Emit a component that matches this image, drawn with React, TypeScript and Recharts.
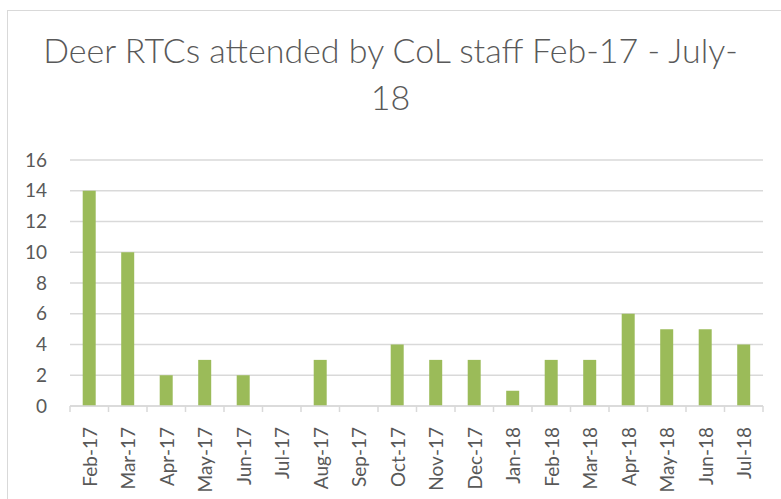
import React from 'react';
import { BarChart, Bar, XAxis, YAxis, CartesianGrid } from 'recharts';

const months = [
  'Feb-17', 'Mar-17', 'Apr-17', 'May-17', 'Jun-17', 'Jul-17', 'Aug-17', 'Sep-17', 'Oct-17',
  'Nov-17', 'Dec-17', 'Jan-18', 'Feb-18', 'Mar-18', 'Apr-18', 'May-18', 'Jun-18', 'Jul-18',
];
const rtcs = [14, 10, 2, 3, 2, 0, 3, 0, 4, 3, 3, 1, 3, 3, 6, 5, 5, 4];
const yTicks = [0, 2, 4, 6, 8, 10, 12, 14, 16];

const data = months.map((m, i) => ({ month: m, rtcs: rtcs[i] }));

const FONT = 'Lato, "Open Sans", sans-serif';
const GREY = '#595959';
const LINE = '#d9d9d9';
const BAND = (763 - 70) / months.length;

// Excel-style ticks sit between categories, label is rotated underneath
const MonthTick = (props: any) => {
  const { x, payload, index } = props;
  const half = BAND / 2;
  const last = index === months.length - 1;
  return (
    <g>
      <line x1={x - half} x2={x - half} y1={406} y2={412} stroke={LINE} strokeWidth={1.5} />
      {last && <line x1={x + half} x2={x + half} y1={406} y2={412} stroke={LINE} strokeWidth={1.5} />}
      <text
        transform={`translate(${x + 1},427) rotate(-90)`}
        textAnchor="end"
        dy="0.35em"
        fill={GREY}
        fontSize={19}
        fontFamily={FONT}
      >
        {payload.value}
      </text>
    </g>
  );
};

const App: React.FC = () => {
  return (
    <div style={{ position: 'absolute', left: 0, top: 0, width: 781, height: 499, background: '#fff', overflow: 'hidden' }}>
      <div
        style={{
          position: 'absolute', left: 7, top: 10, width: 900, height: 600,
          border: `1.5px solid ${LINE}`, boxSizing: 'border-box',
        }}
      />
      <div
        style={{
          position: 'absolute', left: 0, top: 26, width: 781, textAlign: 'center',
          fontFamily: FONT, fontSize: 34, fontWeight: 300, color: GREY, lineHeight: '47px',
        }}
      >
        Deer RTCs attended by CoL staff Feb-17 - July-<br />18
      </div>
      <div style={{ position: 'absolute', left: 0, top: 0 }}>
        <BarChart
          width={781}
          height={499}
          data={data}
          margin={{ top: 160, right: 18, bottom: 0, left: 7 }}
          barCategoryGap="33%"
        >
          <CartesianGrid horizontal vertical={false} stroke={LINE} strokeWidth={1.5} />
          <XAxis
            dataKey="month"
            interval={0}
            height={93}
            axisLine={{ stroke: LINE, strokeWidth: 1.5 }}
            tickLine={false}
            tick={<MonthTick />}
          />
          <YAxis
            width={63}
            domain={[0, 16]}
            ticks={yTicks}
            interval={0}
            axisLine={false}
            tickLine={false}
            tickMargin={17}
            tick={{ fill: GREY, fontSize: 19, fontFamily: FONT }}
          />
          <Bar dataKey="rtcs" fill="#9bbb59" isAnimationActive={false} />
        </BarChart>
      </div>
    </div>
  );
};

export default App;
